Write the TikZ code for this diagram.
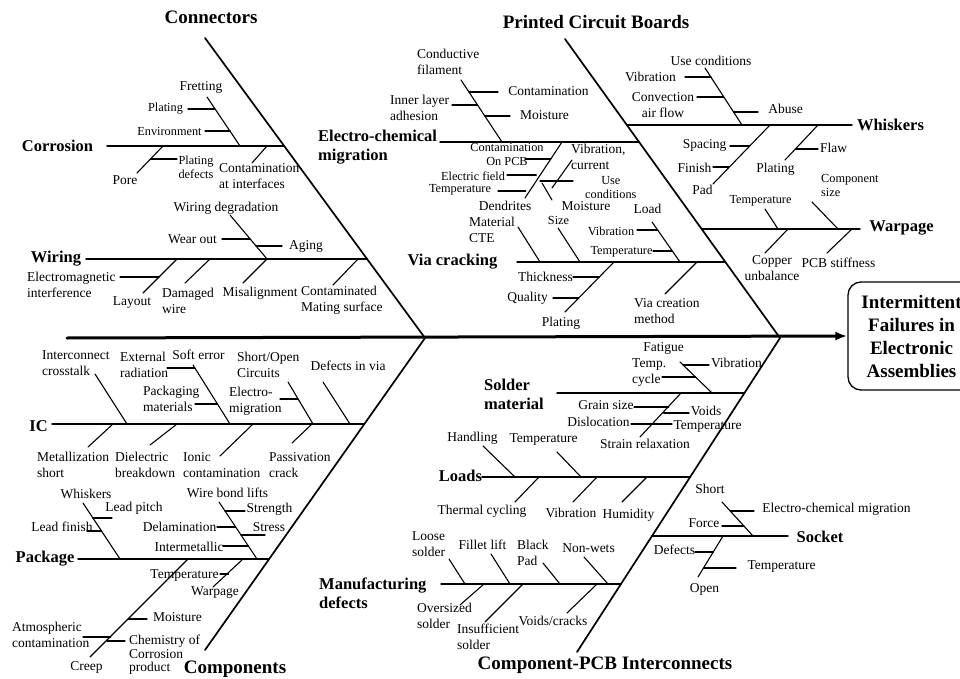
\documentclass[tikz,border=0pt]{standalone}
\usepackage{fontspec}
\setmainfont{Liberation Serif}
\usetikzlibrary{arrows.meta}

\begin{document}
\begin{tikzpicture}[x=1pt, y=-1pt, line cap=round]
\tikzstyle{lbl}=[font=\fontsize{13.5}{16}\selectfont, inner sep=0pt, align=center]
\tikzstyle{lbll}=[lbl, align=left, anchor=west]
\tikzstyle{sml}=[font=\fontsize{12.3}{14}\selectfont, inner sep=0pt, align=center]
\tikzstyle{smll}=[sml, align=left, anchor=west]
\tikzstyle{sub}=[font=\fontsize{16.5}{19}\selectfont\bfseries, inner sep=0pt, align=left]
\tikzstyle{head}=[font=\fontsize{19}{23}\selectfont\bfseries, inner sep=0pt]
\tikzstyle{bone}=[line width=1.7pt]
\tikzstyle{rib}=[line width=1.4pt]
\tikzstyle{twig}=[line width=1.1pt]

\useasboundingbox (0,0) rectangle (960,679);

% Draw effect box and spine
\node[draw, line width=1.3pt, rounded corners=13pt, minimum width=127pt, minimum height=108pt, inner sep=0pt,
      font=\fontsize{19}{23}\selectfont\bfseries, align=center] (effect) at (911.5,336)
      {Intermittent\\Failures in\\Electronic\\Assemblies};
\draw[line width=3pt, -{Latex[length=12pt,width=9pt]}] (67,338) -- (effect.west);

% Draw main bones
\draw[bone] (205,38) -- (425,338);
\draw[bone] (565,39) -- (780,338);
\draw[bone] (425,338) -- (205,650);
\draw[bone] (780,338) -- (577,652);
\node[head] (connectors) at (211,17) {Connectors};
\node[head] (pcb) at (596,22) {Printed Circuit Boards};
\node[head] (components) at (235,669) {Components};
\node[head] (interconn) at (605,665) {Component-PCB Interconnects};

% Connectors: corrosion
\node[sub] (corrosion) at (57.5,146) {Corrosion};
\draw[rib] (107,146) -- (284.2,146);
\node[lbl] (fretting) at (201,87) {Fretting};
\draw[twig] (207,97) -- (240,146);
\node[sml] (plating1) at (165.5,109) {Plating};
\draw[twig] (188,109) -- (215,109);
\node[sml] (environment) at (169.5,131) {Environment};
\draw[twig] (205,131) -- (230,131);
\node[lbl] (pore) at (125,180) {Pore};
\draw[twig] (137,173) -- (163,146);
\node[sml] (platingdef) at (196,167) {Plating\\defects};
\draw[twig] (151,159) -- (177,159);
\node[lbll] (contint) at (219,176) {Contamination\\at interfaces};
\draw[twig] (252,163) -- (267,146);

% Connectors: wiring
\node[sub] (wiring) at (56,259) {Wiring};
\draw[rib] (86,259) -- (367.1,259);
\node[lbl] (wiredeg) at (226,208) {Wiring degradation};
\draw[twig] (230,215) -- (267,259);
\node[lbl] (wearout) at (192.5,239) {Wear out};
\draw[twig] (222,239) -- (250,239);
\node[lbl] (aging) at (306,246) {Aging};
\draw[twig] (256,246) -- (282,246);
\node[lbl] (misalign) at (260,293) {Misalignment};
\draw[twig] (243,283) -- (267,259);
\node[lbl] (layout) at (132,303) {Layout};
\draw[twig] (143,293) -- (177,259);
\node[lbll] (emi) at (27,285) {Electromagnetic\\interference};
\draw[twig] (120,277) -- (159,277);
\node[lbll] (damaged) at (162,300.5) {Damaged\\wire};
\draw[twig] (185,283) -- (210,259);
\node[lbll] (contmating) at (301,300.5) {Contaminated\\Mating surface};
\draw[twig] (333,285) -- (358,259);

% PCB: electro-chemical migration
\node[sub, anchor=west] (ecm) at (318,147) {Electro-chemical\\migration};
\draw[rib] (440,142) -- (639.1,142);
\node[lbll] (filament) at (417,61.5) {Conductive\\filament};
\draw[twig] (461,80) -- (502,142);
\node[lbll] (innerlayer) at (390,107.5) {Inner layer\\adhesion};
\draw[twig] (452,105) -- (477.5,105);
\node[lbl] (contam2) at (548.5,91) {Contamination};
\draw[twig] (469,92) -- (498,92);
\node[lbl] (moisture1) at (544.5,115) {Moisture};
\draw[twig] (485,116) -- (510,116);
\node[sml] (onpcb) at (507,154) {Contamination\\On PCB};
\node[lbl] (dendrites) at (505,206) {Dendrites};
\draw[twig] (562,142) -- (525,198);
\draw[twig] (525,159) -- (550.8,159);
\node[sml] (efield) at (473,176) {Electric field};
\draw[twig] (507,175) -- (536.3,175);
\node[sml] (temp1) at (460,190) {Temperature};
\draw[twig] (498,191) -- (525.7,191);
\node[lbll] (vibcur) at (571,156.5) {Vibration,\\current};
\draw[twig] (572,160) -- (552,188);
\node[sml, anchor=west] (usecond1) at (585,187.5) {Use\\conditions};
\draw[twig] (540,181) -- (573,181);
\node[lbl] (moisture2) at (586,206) {Moisture};
\draw[twig] (542,183) -- (552,200);

% PCB: whiskers
\node[sub] (whiskers) at (890.5,125) {Whiskers};
\draw[rib] (626.8,125) -- (852,125);
\node[lbl] (usecond2) at (711,61) {Use conditions};
\draw[twig] (705,68) -- (742,125);
\node[lbl] (vib1) at (650.5,77) {Vibration};
\draw[twig] (685,77) -- (711,77);
\node[lbl] (convection) at (663,105) {Convection\\air flow};
\draw[twig] (697,97) -- (723.8,97);
\node[lbl] (abuse) at (785.5,109) {Abuse};
\draw[twig] (733.6,112) -- (758,112);
\node[lbl] (spacing) at (704.5,145) {Spacing};
\draw[twig] (770,125) -- (713,184);
\draw[twig] (730,146) -- (749.7,146);
\node[lbl] (finish) at (694.5,168) {Finish};
\draw[twig] (713,167) -- (729,167);
\node[lbl] (pad) at (702.5,190) {Pad};
\node[lbl] (plating2) at (775.5,169) {Plating};
\draw[twig] (818,125) -- (785,160);
\node[lbl] (flaw) at (833.5,148) {Flaw};
\draw[twig] (795.4,149) -- (818,149);

% PCB: warpage
\node[sub] (warpage1) at (901.5,228) {Warpage};
\draw[rib] (701.6,229) -- (860,229);
\node[sml] (temp2) at (760.5,201) {Temperature};
\draw[twig] (765,209) -- (778,229);
\node[smll] (compsize) at (821,185.5) {Component\\size};
\draw[twig] (812,202) -- (838,229);
\node[lbl] (copper) at (772,268) {Copper\\unbalance};
\draw[twig] (788,229) -- (765,253);
\node[lbl] (stiffness) at (838.5,263) {PCB stiffness};
\draw[twig] (852,229) -- (827,253);

% PCB: via cracking
\node[sub] (via) at (452.5,262) {Via cracking};
\draw[rib] (517,262) -- (725.3,262);
\node[lbll] (cte) at (469,229.5) {Material\\CTE};
\draw[twig] (518,227) -- (540,262);
\node[sml] (size) at (558.5,220) {Size};
\draw[twig] (558,228) -- (580,262);
\node[lbl] (load) at (647.5,209) {Load};
\draw[twig] (652,222) -- (680,262);
\node[sml] (vib2) at (611,231) {Vibration};
\draw[twig] (637,230) -- (657.6,230);
\node[sml] (temp3) at (621.5,252) {Temperature};
\draw[twig] (653,251) -- (672.3,251);
\node[lbl] (plating3) at (561,323) {Plating};
\draw[twig] (614,262) -- (565,312);
\node[lbl] (thickness) at (545.5,277) {Thickness};
\draw[twig] (573,277) -- (599.3,277);
\node[lbl] (quality) at (527.5,298) {Quality};
\draw[twig] (553,298) -- (578.7,298);
\node[lbll] (viacreation) at (634,311) {Via creation\\method};
\draw[twig] (697,262) -- (665,294);

% Components: IC
\node[sub] (ic) at (38.5,426) {IC};
\draw[rib] (52,424) -- (364.4,424);
\node[lbll] (crosstalk) at (42,363.5) {Interconnect\\crosstalk};
\draw[twig] (95,374) -- (127,424);
\node[lbl] (softerror) at (198.5,355) {Soft error};
\draw[twig] (193,365) -- (230,424);
\node[lbll] (radiation) at (120,364.5) {External\\radiation};
\draw[twig] (167,368) -- (194.9,368);
\node[lbll] (packmat) at (143,399) {Packaging\\materials};
\draw[twig] (195,404) -- (217.5,404);
\node[lbll] (shortopen) at (237,365) {Short/Open\\Circuits};
\draw[twig] (288,382) -- (313,424);
\node[lbll] (electromig) at (229,401) {Electro-\\migration};
\draw[twig] (280,399) -- (298,399);
\node[lbl] (viadefects) at (348,366) {Defects in via};
\draw[twig] (323,382) -- (350,424);
\node[lbll] (metshort) at (37,465) {Metallization\\short};
\draw[twig] (88,447) -- (113,424);
\node[lbll] (dielectric) at (115,465) {Dielectric\\breakdown};
\draw[twig] (150,445) -- (177,424);
\node[lbll] (ionic) at (183,465) {Ionic\\contamination};
\draw[twig] (220,456) -- (253,424);
\node[lbll] (passivation) at (269,465) {Passivation\\crack};
\draw[twig] (292,443) -- (312,424);

% Components: package
\node[sub] (package) at (45,559) {Package};
\draw[rib] (78,559) -- (269.2,559);
\node[lbl] (whiskers2) at (86,494) {Whiskers};
\draw[twig] (83,503) -- (120,559);
\node[lbl] (leadpitch) at (134,508) {Lead pitch};
\draw[twig] (92.9,518) -- (112,518);
\node[lbl] (leadfinish) at (62,527) {Lead finish};
\draw[twig] (87,531) -- (101.5,531);
\node[lbl] (bondlifts) at (227.5,493) {Wire bond lifts};
\draw[twig] (219,502) -- (257,559);
\node[lbl] (strength) at (269.5,509) {Strength};
\draw[twig] (225,511) -- (245,511);
\node[lbl] (stress) at (269,527) {Stress};
\draw[twig] (241,535) -- (265,535);
\node[lbl] (delamination) at (179.5,527) {Delamination};
\draw[twig] (217,527) -- (235.7,527);
\node[lbl] (intermetallic) at (189,547) {Intermetallic};
\draw[twig] (223,546) -- (248.3,546);
\node[lbl] (creep) at (86.5,667) {Creep};
\draw[twig] (188,559) -- (90,657);
\node[lbl] (moisture3) at (177.5,617) {Moisture};
\draw[twig] (128.6,619) -- (147,619);
\node[lbll] (atmos) at (12,635) {Atmospheric\\contamination};
\draw[twig] (83,637) -- (110.8,637);
\node[lbll, font=\fontsize{13.5}{13.5}\selectfont] (chemistry) at (129,655) {Chemistry of\\Corrosion\\product};
\draw[twig] (106.8,641) -- (125,641);
\node[lbl] (warpage2) at (215,593) {Warpage};
\draw[twig] (243,559) -- (213,587);
\node[lbl] (temp4) at (184.5,576) {Temperature};
\draw[twig] (220,574) -- (228.5,574);

% Interconnects: solder material
\node[sub, anchor=west] (solder) at (484,394.5) {Solder\\material};
\draw[rib] (557,393) -- (744.4,393);
\node[lbl] (fatigue) at (663.5,348) {Fatigue};
\draw[twig] (680,362) -- (712,393);
\node[lbll] (tempcycle) at (632,372.5) {Temp.\\cycle};
\draw[twig] (662,377) -- (695.5,377);
\node[lbl] (vib3) at (736.5,363) {Vibration};
\draw[twig] (683.1,365) -- (709,365);
\node[lbl] (strain) at (645,444) {Strain relaxation};
\draw[twig] (681,393) -- (640,437);
\node[lbl] (grain) at (606,405) {Grain size};
\draw[twig] (634,407) -- (668.8,407);
\node[lbl] (voids) at (706,411) {Voids};
\draw[twig] (663.6,413) -- (689,413);
\node[lbl] (dislocation) at (598.5,422) {Dislocation};
\draw[twig] (631,424) -- (672,424);
\node[lbl] (temp5) at (707.5,427) {Temperature};

% Interconnects: loads
\node[sub] (loads) at (460.5,476) {Loads};
\draw[rib] (482,477) -- (690.1,477);
\node[lbl] (handling) at (472.5,438) {Handling};
\draw[twig] (483,446) -- (515,477);
\node[lbl] (temp6) at (543.5,440) {Temperature};
\draw[twig] (557,452) -- (581,477);
\node[lbl] (thermal) at (482,511) {Thermal cycling};
\draw[twig] (515,502) -- (539,477);
\node[lbl] (vib4) at (571,513) {Vibration};
\draw[twig] (573,502) -- (597,477);
\node[lbl] (humidity) at (628.5,515) {Humidity};
\draw[twig] (622,502) -- (647,477);

% Interconnects: manufacturing defects
\node[sub, anchor=west] (manuf) at (319,593.5) {Manufacturing\\defects};
\draw[rib] (441,584) -- (621,584);
\node[lbl] (loose) at (428.5,544.5) {Loose\\solder};
\draw[twig] (449,559) -- (465,584);
\node[lbl] (fillet) at (482.5,545) {Fillet lift};
\draw[twig] (491,554) -- (510,584);
\node[lbll] (blackpad) at (517,553) {Black\\Pad};
\draw[twig] (543,563) -- (560,584);
\node[lbl] (nonwets) at (588.5,548) {Non-wets};
\draw[twig] (584,557) -- (608,584);
\node[lbll] (oversized) at (417,615.5) {Oversized\\solder};
\draw[twig] (460,605) -- (484,584);
\node[lbll] (insufficient) at (457,636.5) {Insufficient\\solder};
\draw[twig] (485,622) -- (523,584);
\node[lbl] (voidscracks) at (553,621) {Voids/cracks};
\draw[twig] (567,613) -- (597,584);

% Interconnects: socket
\node[sub] (socket) at (820,537) {Socket};
\draw[rib] (652,536) -- (788,536);
\node[lbl] (short) at (710,489) {Short};
\draw[twig] (722,502) -- (753,536);
\node[lbl] (ecm2) at (836.5,509) {Electro-chemical migration};
\draw[twig] (730.2,511) -- (754,511);
\node[lbl] (force) at (704,523) {Force};
\draw[twig] (722,526) -- (743.9,526);
\node[lbl] (open) at (704.5,589) {Open};
\draw[twig] (723,536) -- (698,577);
\node[lbl] (defects) at (674.5,550) {Defects};
\draw[twig] (695,552) -- (713.2,552);
\node[lbl] (temp7) at (781.5,567) {Temperature};
\draw[twig] (703.5,568) -- (736,568);

\end{tikzpicture}
\end{document}
